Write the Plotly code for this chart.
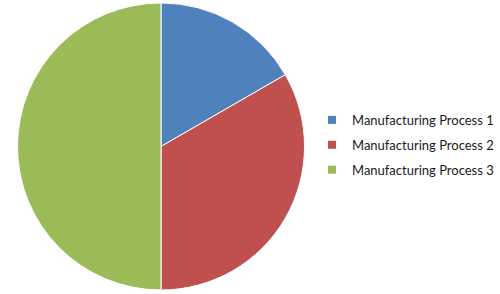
import plotly.graph_objects as go

categories = ["Manufacturing Process 1", "Manufacturing Process 2", "Manufacturing Process 3"]
values = [1, 2, 3]
colors = ["#4F81BD", "#C0504D", "#9BBB59"]

fig = go.Figure()
fig.add_trace(go.Pie(
    labels=categories, values=values, sort=False, direction="clockwise", rotation=0,
    marker=dict(colors=colors, line=dict(color="white", width=1)),
    textinfo="none", hoverinfo="label+value+percent", showlegend=False,
    domain=dict(x=[0.034, 0.61], y=[0.0136, 0.99]),
))
for name, col in zip(categories, colors):
    fig.add_trace(go.Scatter(
        x=[None], y=[None], mode="markers", name=name, legendgroup=name,
        marker=dict(symbol="square", size=8, color=col),
    ))

fig.update_layout(
    width=500, height=294, margin=dict(l=0, r=0, t=0, b=0),
    paper_bgcolor="white", plot_bgcolor="white",
    xaxis=dict(visible=False), yaxis=dict(visible=False),
    showlegend=True,
    legend=dict(x=0.624, xanchor="left", y=0.507, yanchor="middle",
                tracegroupgap=5, font=dict(family="Lato", size=13, color="#1a1a1a"),
                bgcolor="rgba(0,0,0,0)"),
    font=dict(family="Lato"),
)
fig.write_html("out.html")
